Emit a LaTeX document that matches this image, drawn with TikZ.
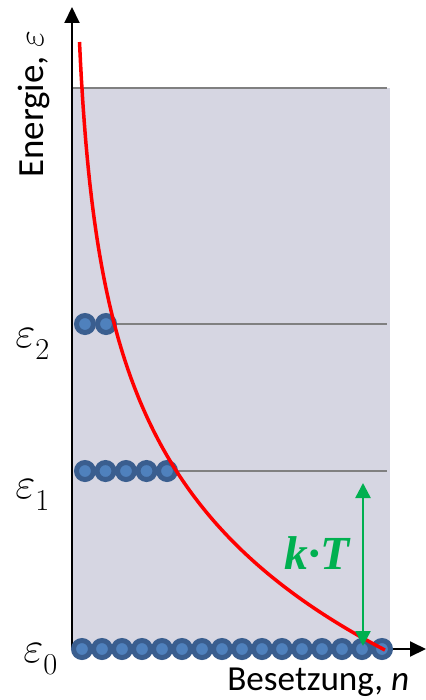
\documentclass[tikz,border=0pt]{standalone}
\usepackage{fontspec}
\setmainfont{Carlito}
\newfontfamily\serifbi{Liberation Serif}
\usetikzlibrary{arrows.meta}

\definecolor{bgshade}{RGB}{214,214,226}
\definecolor{levelgray}{RGB}{128,128,128}
\definecolor{ringblue}{RGB}{58,94,143}
\definecolor{coreblue}{RGB}{79,129,189}
\definecolor{ktgreen}{RGB}{0,176,80}

\newcommand{\lowsub}[1]{_{\lower3.5pt\hbox{$\scriptstyle #1$}}}

\begin{document}
\begin{tikzpicture}[x=0.02cm, y=-0.02cm,
  axis/.style={line width=0.04cm, -{Triangle[width=0.3cm, length=0.32cm]}},
  level/.style={levelgray, line width=0.04cm},
  particle/.style={circle, draw=ringblue, fill=coreblue, line width=0.1cm,
    minimum size=0.34cm, inner sep=0pt},
  occupation/.style={red, line width=0.07cm},
  epslabel/.style={anchor=base west, inner sep=0pt, font=\fontsize{25}{28}\selectfont}]

  \useasboundingbox (0,0) rectangle (426,700);

  \def\nx{72}    % energy axis
  \def\ny{649}   % ground level
  \def\eone{471} % first level
  \def\etwo{324} % second level
  \def\kT{163}   % decay length

  % background and levels
  \fill[bgshade] (\nx,88) rectangle (390,\ny);
  \draw[level] (\nx,88) -- (387,88);
  \draw[level] (100,\etwo) -- (387,\etwo);
  \draw[level] (160,\eone) -- (387,\eone);

  % axes
  \coordinate (origin) at (\nx,\ny);
  \coordinate (ytip) at (\nx,7);
  \coordinate (xtip) at (426,\ny);
  \draw[axis] (origin) -- (ytip);
  \draw[axis] (origin) -- (xtip);

  % particles
  \foreach \i in {0,...,15}
    \node[particle] (g\i) at ({82+20*\i},\ny) {};
  \foreach \i in {0,...,4}
    \node[particle] (a\i) at ({85+20.5*\i},\eone) {};
  \foreach \i in {0,1}
    \node[particle] (b\i) at ({85+21*\i},\etwo) {};

  % occupation curve
  \draw[occupation] plot[domain=42:650, samples=120, smooth]
    ({\nx+311*exp(-(\ny-\x)/\kT)},\x);

  % thermal energy
  \coordinate (kTtop) at (363,483);
  \coordinate (kTbot) at (363,646);
  \draw[ktgreen, line width=0.05cm,
    {Triangle[width=0.3cm, length=0.3cm]}-{Triangle[width=0.3cm, length=0.3cm]}]
    (kTtop) -- (kTbot);
  \node[text=ktgreen, font=\serifbi\bfseries\itshape\fontsize{27}{30}\selectfont]
    (kT) at (317,553) {k·T};

  % labels
  \node[epslabel] (eps2) at (15,347) {$\varepsilon\lowsub{2}$};
  \node[epslabel] (eps1) at (15,498) {$\varepsilon\lowsub{1}$};
  \node[epslabel] (eps0) at (23,662) {$\varepsilon\lowsub{0}$};
  \node[rotate=90, anchor=base west, inner sep=0pt, font=\fontsize{21}{25}\selectfont]
    (ylabel) at (43,178) {Energie, $\varepsilon$};
  \node[anchor=base west, inner sep=0pt, font=\fontsize{20}{24}\selectfont]
    (xlabel) at (227,690) {Besetzung, \textit{n}};

\end{tikzpicture}
\end{document}
